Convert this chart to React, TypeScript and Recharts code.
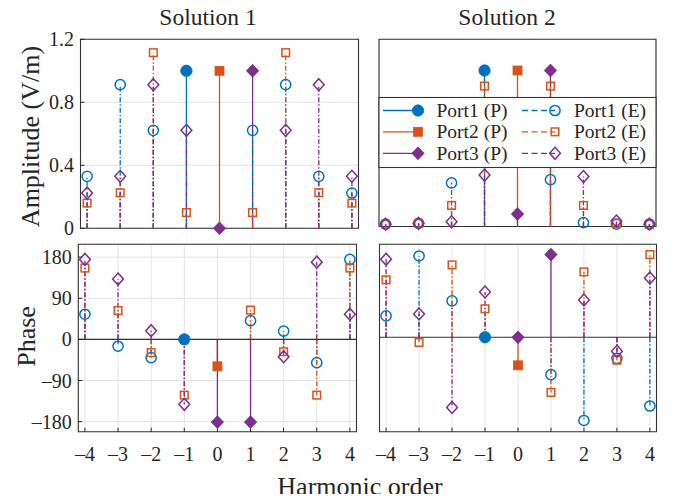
import React from 'react';
import { ScatterChart, Scatter, XAxis, YAxis, CartesianGrid, ReferenceLine, ReferenceArea } from 'recharts';

// ---------- data ----------
const harmonics = [-4, -3, -2, -1, 0, 1, 2, 3, 4];
const xTickLabels = ['–4', '–3', '–2', '–1', '0', '1', '2', '3', '4'];
const ampTicks = [0, 0.4, 0.8, 1.2];
const ampTickLabels = ['0', '0.4', '0.8', '1.2'];
const phaseTicks = [-180, -90, 0, 90, 180];
const phaseTickLabels = ['–180', '–90', '0', '90', '180'];
const seriesNames = ['Port1 (P)', 'Port2 (P)', 'Port3 (P)', 'Port1 (E)', 'Port2 (E)', 'Port3 (E)'];
const titles = ['Solution 1', 'Solution 2'];

// Solution 1 – amplitude (V/m)
const s1AmpP1 = [null, null, null, 1.0, null, null, null, null, null];
const s1AmpP2 = [null, null, null, null, 1.0, null, null, null, null];
const s1AmpP3 = [null, null, null, null, 0.0, 1.0, null, null, null];
const s1AmpE1 = [0.33, 0.912, 0.622, null, null, 0.622, 0.912, 0.33, 0.224];
const s1AmpE2 = [0.16, 0.226, 1.115, 0.1, null, 0.1, 1.115, 0.226, 0.16];
const s1AmpE3 = [0.224, 0.33, 0.912, 0.622, null, null, 0.622, 0.912, 0.33];

// Solution 2 – amplitude (V/m)
const s2AmpP1 = [null, null, null, 1.0, null, null, null, null, null];
const s2AmpP2 = [null, null, null, null, 1.0, null, null, null, null];
const s2AmpP3 = [null, null, null, null, 0.08, 1.0, null, null, null];
const s2AmpE1 = [0.015, 0.02, 0.28, null, null, 0.3, 0.025, 0.015, 0.015];
const s2AmpE2 = [0.015, 0.02, 0.135, 0.9, null, 0.9, 0.135, 0.02, 0.015];
const s2AmpE3 = [0.015, 0.02, 0.03, 0.33, null, null, 0.32, 0.035, 0.015];

// Solution 1 – phase (deg)
const s1PhP1 = [null, null, null, 0, null, null, null, null, null];
const s1PhP2 = [null, null, null, null, -59, null, null, null, null];
const s1PhP3 = [null, null, null, null, -181, -181, null, null, null];
const s1PhE1 = [55, -15, -40, null, null, 41, 18, -51, 175];
const s1PhE2 = [156, 63, -29, -122, null, 64, -27, -122, 156];
const s1PhE3 = [175, 132, 19, -142, null, null, -38, 169, 55];

// Solution 2 – phase (deg)
const s2PhP1 = [null, null, null, 0, null, null, null, null, null];
const s2PhP2 = [null, null, null, null, -60, null, null, null, null];
const s2PhP3 = [null, null, null, null, 0, 177, null, null, null];
const s2PhE1 = [46, 174, 78, null, null, -80, -178, -45, -147];
const s2PhE2 = [123, -11, 155, 61, null, -118, 140, -49, 177];
const s2PhE3 = [167, 50, -150, 97, null, null, 80, -30, 127];

// ---------- styles ----------
const FONT = "Liberation Serif, DejaVu Serif, serif";
const TXT = '#262626';
const BLUE = '#0072BD';
const ORANGE = '#D95319';
const PURPLE = '#7E2F8E';
const styles = [
  { color: BLUE, kind: 'circle', filled: true },
  { color: ORANGE, kind: 'square', filled: true },
  { color: PURPLE, kind: 'diamond', filled: true },
  { color: BLUE, kind: 'circle', filled: false },
  { color: ORANGE, kind: 'square', filled: false },
  { color: PURPLE, kind: 'diamond', filled: false },
];
const DASH = '5 2 1.5 2';

function Marker({ cx, cy, kind, filled, color }: any) {
  const sw = 1.5;
  if (kind === 'circle') {
    return filled ? (
      <circle cx={cx} cy={cy} r={5.7} fill={color} stroke={color} strokeWidth={0.8} />
    ) : (
      <circle cx={cx} cy={cy} r={5.1} fill="none" stroke={color} strokeWidth={sw} />
    );
  }
  if (kind === 'square') {
    const s = filled ? 9 : 7.6;
    return (
      <rect x={cx - s / 2} y={cy - s / 2} width={s} height={s}
        fill={filled ? color : 'none'} stroke={color} strokeWidth={filled ? 0.8 : sw} />
    );
  }
  const hw = filled ? 6.2 : 5.4;
  const hh = filled ? 6.4 : 6.0;
  const d = `M${cx},${cy - hh} L${cx + hw},${cy} L${cx},${cy + hh} L${cx - hw},${cy} Z`;
  return <path d={d} fill={filled ? color : 'none'} stroke={color} strokeWidth={filled ? 0.8 : sw} />;
}

const makeShape = (st: any) => (props: any) => {
  const { cx, cy } = props;
  if (cx == null || cy == null) return <g />;
  return <Marker cx={cx} cy={cy} kind={st.kind} filled={st.filled} color={st.color} />;
};

const toPoints = (vals: (number | null)[]) =>
  harmonics.map((h, i) => ({ x: h, y: vals[i] })).filter((p) => p.y !== null) as { x: number; y: number }[];

const W = 677;
const H = 502;
const XDOM: [number, number] = [-4.2, 4.2];

function Panel({ plot, yDomain, yTicks, yLabels, showY, showX, series, baseline }: any) {
  const yW = showY ? 60 : 1;
  const xH = showX ? 40 : 1;
  const margin = {
    left: plot.x0 - yW,
    right: W - plot.x1 - 1,
    top: plot.y0 - 1,
    bottom: H - plot.y1 - xH,
  };
  const tickStyle = { fontFamily: FONT, fontSize: 20, fill: TXT };
  return (
    <div style={{ position: 'absolute', left: 0, top: 0 }}>
      <ScatterChart width={W} height={H} margin={margin}>
        <CartesianGrid stroke="#e3e3e3" strokeWidth={1} />
        <XAxis
          type="number" dataKey="x" domain={XDOM} ticks={harmonics}
          axisLine={false} tickLine={{ stroke: TXT }} tickSize={-4} tickMargin={19}
          height={xH}
          tick={showX ? tickStyle : false}
          tickFormatter={(v: any, i: number) => xTickLabels[i]}
          interval={0}
        />
        <XAxis
          xAxisId="top" orientation="top" type="number" dataKey="x" domain={XDOM} ticks={harmonics}
          allowDataOverflow axisLine={false} tickLine={{ stroke: TXT }} tickSize={-4} height={1} tick={false}
          interval={0}
        />
        <YAxis
          type="number" dataKey="y" domain={yDomain} ticks={yTicks}
          axisLine={false} tickLine={{ stroke: TXT }} tickSize={-4} tickMargin={10.5}
          width={yW}
          tick={showY ? tickStyle : false}
          tickFormatter={(v: any, i: number) => yLabels[i]}
          interval={0}
        />
        <YAxis
          yAxisId="right" orientation="right" type="number" dataKey="y" domain={yDomain} ticks={yTicks}
          allowDataOverflow axisLine={false} tickLine={{ stroke: TXT }} tickSize={-4} width={1} tick={false}
          interval={0}
        />
        <ReferenceArea x1={XDOM[0]} x2={XDOM[1]} y1={yDomain[0]} y2={yDomain[1]}
          fill="none" fillOpacity={0} stroke="#333333" strokeWidth={1.1} />
        {series.map((vals: (number | null)[], si: number) =>
          toPoints(vals).map((p, pi) => (
            <ReferenceLine
              key={`stem-${si}-${pi}`}
              segment={[{ x: p.x, y: 0 }, { x: p.x, y: p.y }]}
              stroke={styles[si].color}
              strokeWidth={1.3}
              strokeDasharray={styles[si].filled ? undefined : DASH}
            />
          ))
        )}
        {baseline && <ReferenceLine y={0} stroke="#333333" strokeWidth={1.1} />}
        {series.map((vals: (number | null)[], si: number) => (
          <Scatter
            key={`sc-${si}`}
            name={seriesNames[si]}
            data={toPoints(vals)}
            shape={makeShape(styles[si])}
            isAnimationActive={false}
          />
        ))}
      </ScatterChart>
    </div>
  );
}

function Legend() {
  const x0 = 379, x1 = 656, y0 = 97.5, y1 = 167.5;
  const rows = [110.5, 131.8, 153.3];
  const cols = [
    { l0: 383, l1: 418, tx: 436.5 },
    { l0: 522, l1: 555, tx: 574 },
  ];
  return (
    <svg width={W} height={H} style={{ position: 'absolute', left: 0, top: 0 }}>
      <rect x={x0} y={y0} width={x1 - x0} height={y1 - y0} fill="#ffffff" stroke="#333333" strokeWidth={1.1} />
      {seriesNames.map((name, i) => {
        const c = cols[Math.floor(i / 3)];
        const y = rows[i % 3];
        const st = styles[i];
        return (
          <g key={name}>
            <line x1={c.l0} x2={c.l1} y1={y} y2={y} stroke={st.color} strokeWidth={1.3}
              strokeDasharray={st.filled ? undefined : '6 3.5'} />
            <Marker cx={c.l1} cy={y} kind={st.kind} filled={st.filled} color={st.color} />
            <text x={c.tx} y={y + 6.3} fontFamily={FONT} fontSize={19.5} fill={TXT}>{name}</text>
          </g>
        );
      })}
    </svg>
  );
}

function Labels() {
  return (
    <svg width={W} height={H} style={{ position: 'absolute', left: 0, top: 0 }}>
      <text x={208} y={24.5} textAnchor="middle" fontFamily={FONT} fontSize={23.5} fill={TXT}>{titles[0]}</text>
      <text x={507} y={24.5} textAnchor="middle" fontFamily={FONT} fontSize={23.5} fill={TXT}>{titles[1]}</text>
      <text x={360} y={495} textAnchor="middle" fontFamily={FONT} fontSize={26} fill={TXT}>Harmonic order</text>
      <text transform="translate(39.3,136.5) rotate(-90)" textAnchor="middle" fontFamily={FONT} fontSize={26} fill={TXT}>Amplitude (V/m)</text>
      <text transform="translate(35,336.5) rotate(-90)" textAnchor="middle" fontFamily={FONT} fontSize={26} fill={TXT}>Phase</text>
    </svg>
  );
}

export default function App() {
  return (
    <div style={{ position: 'relative', width: W, height: H, margin: -8, background: '#ffffff', overflow: 'hidden' }}>
      <Panel
        plot={{ x0: 80.5, x1: 358.5, y0: 39.3, y1: 228.3 }}
        yDomain={[0, 1.2]} yTicks={ampTicks} yLabels={ampTickLabels}
        showY showX={false} baseline={false}
        series={[s1AmpP1, s1AmpP2, s1AmpP3, s1AmpE1, s1AmpE2, s1AmpE3]}
      />
      <Panel
        plot={{ x0: 379, x1: 656, y0: 39.3, y1: 226.5 }}
        yDomain={[0, 1.2]} yTicks={ampTicks} yLabels={ampTickLabels}
        showY={false} showX={false} baseline={false}
        series={[s2AmpP1, s2AmpP2, s2AmpP3, s2AmpE1, s2AmpE2, s2AmpE3]}
      />
      <Panel
        plot={{ x0: 78.3, x1: 356.5, y0: 244.3, y1: 431.7 }}
        yDomain={[-202, 208]} yTicks={phaseTicks} yLabels={phaseTickLabels}
        showY showX baseline
        series={[s1PhP1, s1PhP2, s1PhP3, s1PhE1, s1PhE2, s1PhE3]}
      />
      <Panel
        plot={{ x0: 379.5, x1: 656.5, y0: 244.3, y1: 431.7 }}
        yDomain={[-202, 199]} yTicks={phaseTicks} yLabels={phaseTickLabels}
        showY={false} showX baseline
        series={[s2PhP1, s2PhP2, s2PhP3, s2PhE1, s2PhE2, s2PhE3]}
      />
      <Legend />
      <Labels />
    </div>
  );
}
